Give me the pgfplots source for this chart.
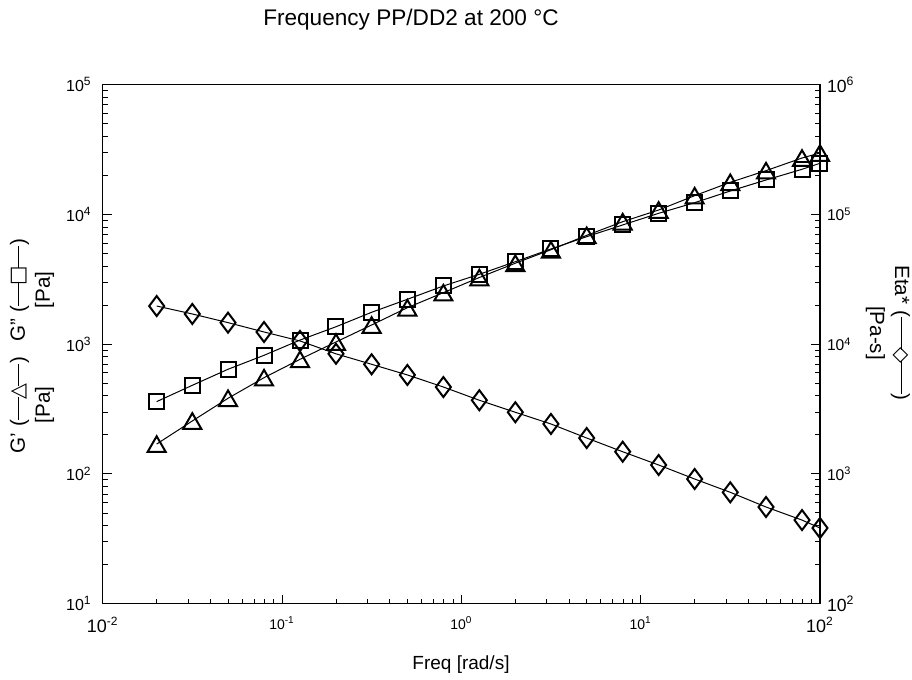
\documentclass[border=0pt]{standalone}
\usepackage{fontspec}
\setmainfont{Liberation Sans}
\newfontfamily\symfont{DejaVu Sans}
\usepackage{pgfplots}
\pgfplotsset{compat=1.18}
\newcommand{\lsym}[2]{\rule[0.3em]{#2}{0.5pt}\kern-0.12em{\symfont #1}\kern-0.12em\rule[0.3em]{#2}{0.5pt}}
\newcommand{\Lbig}[1]{{\fontsize{9}{11}\selectfont #1}}
\newcommand{\Rbig}[1]{{\fontsize{8.8}{10}\selectfont #1}}
\newcommand{\Xs}[1]{{\fontsize{7}{9}\selectfont #1}}
\pgfplotstableread{
f Gpp Gp Eta
0.02 361 170 19690
0.0316 482 256 17100
0.05 641 383 14660
0.0794 821 552 12420
0.126 1076 765 10590
0.2 1363 1040 8430
0.316 1762 1406 7000
0.5 2218 1911 5794
0.794 2810 2495 4677
1.26 3458 3266 3698
2 4325 4208 2988
3.16 5418 5346 2427
5 6740 6902 1892
7.94 8300 8790 1483
12.6 10200 10820 1172
20 12320 13950 914
31.6 15160 17690 722
50 18430 21750 556
79.4 22280 27230 441
100 24790 29760 383
}\data
\begin{document}
\begin{tikzpicture}[x=1pt,y=1pt]
\path[use as bounding box] (0,0) rectangle (456,340);
\begin{axis}[at={(51.35pt,38.15pt)}, anchor=south west, scale only axis,
  width=358.65pt, height=259.5pt,
  xmode=log, ymode=log, xmin=0.01, xmax=100, ymin=10, ymax=1e5,
  tick align=inside, major tick length=4.5pt, minor tick length=2.5pt,
  axis line style={line width=0.6pt},
  every tick/.style={black, line width=0.5pt},
  tick label style={font=\fontsize{8}{9}\selectfont},
  clip=false,
  xtick={0.01,0.1,1,10,100},
  xticklabels={\Lbig{10\textsuperscript{-2}},\Xs{10\textsuperscript{-1}},\Xs{10\textsuperscript{0}},\Xs{10\textsuperscript{1}},\Lbig{10\textsuperscript{2}}},
  ytick={10,100,1000,10000,100000},
  yticklabels={10\textsuperscript{1},10\textsuperscript{2},10\textsuperscript{3},10\textsuperscript{4},10\textsuperscript{5}},
  xtick pos=bottom, ytick pos=left,
  xticklabel style={yshift=-3pt}, yticklabel style={xshift=-2pt}]
\addplot[black, line width=0.5pt, mark=square, mark size=3.75pt,
  mark options={solid, line width=1pt, fill=none}] table[x=f, y=Gpp] {\data};
\addplot[black, line width=0.5pt, mark=triangle, mark size=5.2pt,
  mark options={solid, line width=1pt, fill=none, yshift=-1.3pt}] table[x=f, y=Gp] {\data};
\end{axis}
\begin{axis}[at={(51.35pt,38.15pt)}, anchor=south west, scale only axis,
  width=358.65pt, height=259.5pt,
  xmode=log, ymode=log, xmin=0.01, xmax=100, ymin=100, ymax=1e6,
  tick align=inside, major tick length=4.5pt, minor tick length=2.5pt,
  axis line style={line width=0.6pt},
  every tick/.style={black, line width=0.5pt},
  tick label style={font=\fontsize{7.8}{9}\selectfont},
  clip=false,
  xtick=\empty,
  ytick={100,1000,10000,100000,1000000},
  yticklabels={\Rbig{10\textsuperscript{2}},10\textsuperscript{3},10\textsuperscript{4},10\textsuperscript{5},\Rbig{10\textsuperscript{6}}},
  ytick pos=right, yticklabel pos=right]
\addplot[black, line width=0.5pt, mark=diamond, mark size=5pt,
  mark options={solid, line width=1pt, fill=none}] table[x=f, y=Eta] {\data};
\end{axis}
\node[font=\fontsize{11.3}{13}\selectfont] at (205.5,330) {Frequency PP/DD2 at 200 °C};
\node[font=\fontsize{9.5}{11}\selectfont] at (230.5,7.5) {Freq [rad/s]};
\node[rotate=90, align=center, font=\fontsize{10.3}{12.5}\selectfont] at (16,137.5) {G\symbol{"27} (\lsym{△}{1.1em})\\{}[Pa]};
\node[rotate=90, align=center, font=\fontsize{10.3}{12.5}\selectfont] at (16,195) {G\symbol{"22} (\lsym{□}{1.1em})\\{}[Pa]};
\node[rotate=-90, align=center, font=\fontsize{10.3}{12.5}\selectfont] at (444,173.5) {Eta* (\lsym{◇}{1.6em})\\{}[Pa-s]};
\end{tikzpicture}
\end{document}
